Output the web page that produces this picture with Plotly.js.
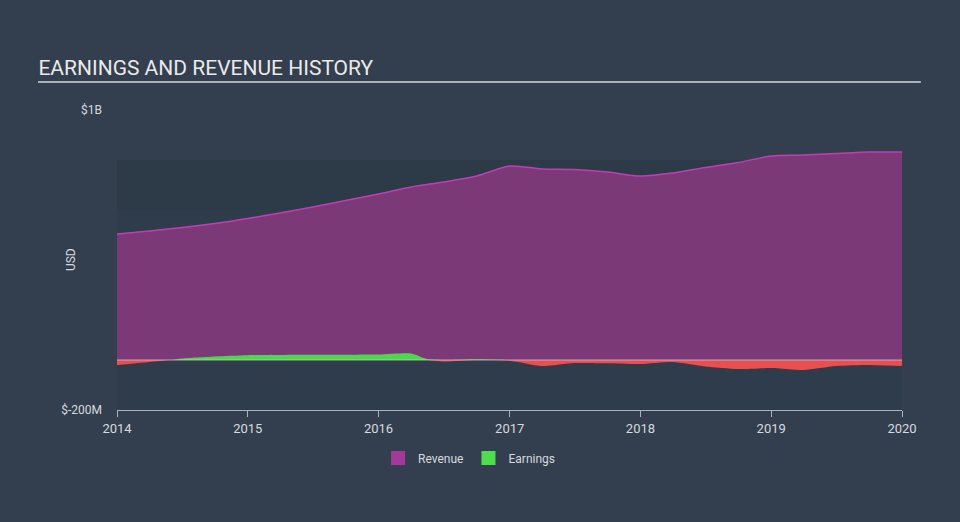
<!DOCTYPE html>
<html>
<head>
<meta charset="utf-8">
<script src="https://cdn.plot.ly/plotly-3.0.1.min.js"></script>
<style>
html,body{margin:0;padding:0;background:#333f4e;}
#chart{width:960px;height:522px;}
</style>
</head>
<body>
<div id="chart"></div>
<script>
// Revenue (USD millions)
var revenueDates = ['2014-01-01','2014-04-01','2014-07-01','2014-10-01','2015-01-01','2015-04-01','2015-07-01','2015-10-01','2016-01-01','2016-04-01','2016-07-01','2016-10-01','2017-01-01','2017-04-01','2017-07-01','2017-10-01','2018-01-01','2018-04-01','2018-07-01','2018-10-01','2019-01-01','2019-04-01','2019-07-01','2019-10-01','2020-01-01'];
var revenueValues = [504,516,530,546,566,588,612,638,664,692,712,736,776,764,762,752,736,748,770,790,816,820,826,832,832];

// Earnings (USD millions)
var earningsDates = ['2014-01-01','2014-04-01','2014-06-01','2014-07-01','2014-10-01','2015-01-01','2015-07-01','2016-01-01','2016-04-01','2016-05-15','2016-07-01','2016-10-01','2017-01-01','2017-04-01','2017-07-01','2017-10-01','2018-01-01','2018-04-01','2018-07-01','2018-10-01','2019-01-01','2019-04-01','2019-07-01','2019-10-01','2020-01-01'];
var earningsValues = [-20,-8,0,6,14,19,21,22,26,4,-6,3,-3,-24,-12,-13,-16,-8,-26,-36,-32,-40,-24,-20,-24];

var yTickVals = [-200, 1000];
var yTickText = ['$-200M', '$1B'];
var xTickVals = ['2014-01-01','2015-01-01','2016-01-01','2017-01-01','2018-01-01','2019-01-01','2020-01-01'];
var xTickText = ['2014','2015','2016','2017','2018','2019','2020'];

var earnPos = earningsValues.map(function(v){return Math.max(v,0);});
var earnNeg = earningsValues.map(function(v){return Math.min(v,0);});

var traces = [
  {x: revenueDates, y: revenueValues, name: 'Revenue', showlegend: false, type: 'scatter', mode: 'lines',
   fill: 'tozeroy', fillcolor: 'rgb(123,58,119)', line: {color: '#c23db4', width: 1.5, shape: 'spline', smoothing: 0.8}},
  {x: earningsDates, y: earnPos, name: 'Earnings', showlegend: false, type: 'scatter', mode: 'lines',
   fill: 'tozeroy', fillcolor: '#4cd84c', line: {color: '#4cd84c', width: 0, shape: 'spline', smoothing: 0.6}},
  {x: earningsDates, y: earnNeg, name: 'Earnings loss', showlegend: false, type: 'scatter', mode: 'lines',
   fill: 'tozeroy', fillcolor: '#e84f4f', line: {color: '#e84f4f', width: 0, shape: 'spline', smoothing: 0.6}},
  {x: [null], y: [null], name: 'Revenue', type: 'bar', marker: {color: '#a3399b', line: {color: '#a3399b', width: 2}}, showlegend: true},
  {x: [null], y: [null], name: 'Earnings', type: 'bar', marker: {color: '#4ddd4d', line: {color: '#4ddd4d', width: 2}}, showlegend: true}
];

var layout = {
  width: 960, height: 522,
  paper_bgcolor: '#333f4e',
  plot_bgcolor: 'rgba(0,0,0,0)',
  font: {family: 'Roboto, "Open Sans", sans-serif', color: '#d6dade'},
  margin: {l: 117, r: 58, t: 110, b: 112},
  title: {text: 'EARNINGS AND REVENUE HISTORY', xref: 'container', yref: 'container', x: 0.04, xanchor: 'left', y: 0.87, yanchor: 'middle',
          font: {size: 21, color: '#eaeaea', family: 'Roboto, sans-serif'}},
  showlegend: true,
  legend: {orientation: 'h', x: 0.4485, xanchor: 'center', y: -0.16, yanchor: 'middle', font: {size: 12, color: '#d6dade'}, bgcolor: 'rgba(0,0,0,0)', itemwidth: 30},
  xaxis: {type: 'date', range: ['2014-01-01','2020-01-01'], tickvals: xTickVals, ticktext: xTickText,
          showgrid: false, zeroline: false, showline: true, linecolor: '#a9b3bf', linewidth: 1,
          ticks: 'outside', ticklen: 6, tickcolor: '#a9b3bf', tickfont: {size: 13, color: '#d6dade'}, fixedrange: true},
  yaxis: {range: [-200, 1000], tickvals: yTickVals, ticktext: yTickText, showgrid: false, zeroline: false,
          showline: false, ticks: '', ticklabelstandoff: 14, tickfont: {size: 12, color: '#d6dade'}, fixedrange: true},
  shapes: [
    {type: 'rect', xref: 'x', yref: 'y', x0: '2014-01-01', x1: '2020-01-01', y0: -200, y1: 800, fillcolor: '#2f3c4b', line: {width: 0}, layer: 'below'},
    {type: 'rect', xref: 'x', yref: 'y', x0: '2014-01-01', x1: '2020-01-01', y0: 600, y1: 800, fillcolor: '#2d3a48', line: {width: 0}, layer: 'below'},
    {type: 'line', xref: 'x', yref: 'y', x0: '2014-01-01', x1: '2020-01-01', y0: 0, y1: 0, line: {color: 'rgba(215,200,200,0.75)', width: 1}, layer: 'above'},
    {type: 'line', xref: 'paper', yref: 'paper', x0: -0.1006, x1: 1.024, y0: 1.0933, y1: 1.0933, line: {color: '#aab0b8', width: 2}}
  ],
  annotations: [
    {text: 'USD', xref: 'paper', yref: 'paper', x: -0.07, y: 0.5, textangle: -90, showarrow: false, font: {size: 12, color: '#d6dade'}}
  ]
};

Plotly.newPlot('chart', traces, layout, {displayModeBar: false, staticPlot: true});
</script>
</body>
</html>
